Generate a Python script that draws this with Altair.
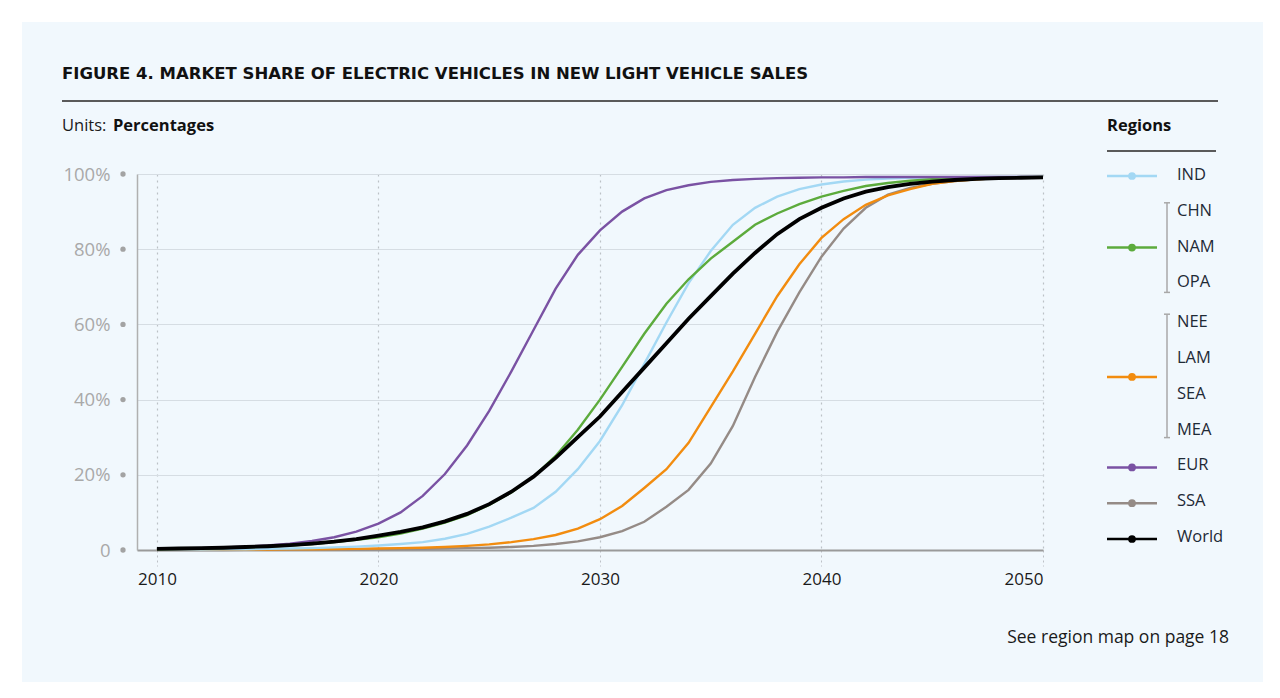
import altair as alt
import pandas as pd

# ---------------- data ----------------
years = list(range(2010, 2051))

ind = [0.1, 0.1, 0.1, 0.2, 0.2, 0.3, 0.4, 0.5, 0.7, 0.9,
       1.2, 1.6, 2.1, 3.0, 4.3, 6.2, 8.6, 11.2, 15.5, 21.5,
       29.0, 38.5, 49.5, 60.5, 71.0, 79.5, 86.5, 91.0, 94.0, 96.0,
       97.2, 98.0, 98.5, 98.8, 99.0, 99.1, 99.1, 99.2, 99.2, 99.2, 99.2]
nam = [0.2, 0.3, 0.4, 0.5, 0.7, 0.9, 1.2, 1.6, 2.1, 2.7,
       3.4, 4.4, 5.7, 7.3, 9.3, 12.0, 15.3, 19.5, 25.0, 32.0,
       40.0, 48.7, 57.5, 65.5, 72.0, 77.5, 82.0, 86.5, 89.5, 92.0,
       94.0, 95.5, 96.8, 97.6, 98.2, 98.6, 98.9, 99.0, 99.1, 99.1, 99.2]
lam = [0.05, 0.05, 0.1, 0.1, 0.1, 0.15, 0.2, 0.2, 0.25, 0.3,
       0.4, 0.5, 0.6, 0.8, 1.1, 1.5, 2.1, 2.9, 4.0, 5.7,
       8.2, 11.7, 16.5, 21.5, 28.5, 38.0, 47.5, 57.5, 67.5, 76.0,
       83.0, 88.0, 91.8, 94.3, 96.0, 97.4, 98.1, 98.6, 98.9, 99.0, 99.1]
eur = [0.3, 0.4, 0.5, 0.7, 0.9, 1.2, 1.7, 2.4, 3.4, 4.9,
       7.0, 10.0, 14.4, 20.2, 27.8, 37.0, 47.5, 58.5, 69.5, 78.5,
       85.0, 90.0, 93.5, 95.7, 97.0, 97.9, 98.4, 98.7, 98.9, 99.0,
       99.1, 99.1, 99.2, 99.2, 99.2, 99.2, 99.2, 99.2, 99.2, 99.2, 99.2]
ssa = [0.0, 0.0, 0.0, 0.0, 0.05, 0.05, 0.1, 0.1, 0.1, 0.15,
       0.2, 0.25, 0.3, 0.4, 0.5, 0.6, 0.8, 1.1, 1.6, 2.3,
       3.4, 5.0, 7.5, 11.5, 16.0, 23.0, 33.0, 46.0, 58.0, 68.5,
       78.0, 85.5, 91.0, 94.5, 96.3, 97.4, 98.1, 98.6, 98.9, 99.0, 99.1]
world = [0.3, 0.4, 0.5, 0.6, 0.8, 1.0, 1.3, 1.7, 2.2, 2.9,
         3.8, 4.8, 6.0, 7.6, 9.6, 12.2, 15.5, 19.5, 24.5, 30.0,
         35.5, 42.0, 48.5, 55.0, 61.5, 67.5, 73.5, 79.0, 84.0, 88.0,
         91.0, 93.5, 95.3, 96.5, 97.4, 98.0, 98.4, 98.7, 98.9, 99.0, 99.1]

series_names = ["SSA", "NEE/LAM/SEA/MEA", "IND", "CHN/NAM/OPA", "EUR"]
series_values = [ssa, lam, ind, nam, eur]
series_colors = ["#958b86", "#f28c0f", "#a3d8f4", "#5cab3c", "#7a52a3"]

y_ticks = [0, 20, 40, 60, 80, 100]
x_ticks = [2010, 2020, 2030, 2040, 2050]

legend_labels = ["IND", "CHN", "NAM", "OPA", "NEE", "LAM", "SEA", "MEA", "EUR", "SSA", "World"]
legend_symbols = ["IND", "CHN/NAM/OPA", "NEE/LAM/SEA/MEA", "EUR", "SSA", "World"]
legend_symbol_colors = ["#a3d8f4", "#5cab3c", "#f28c0f", "#7a52a3", "#958b86", "#000000"]

title_text = "FIGURE 4. MARKET SHARE OF ELECTRIC VEHICLES IN NEW LIGHT VEHICLE SALES"
footnote_text = "See region map on page 18"

# ---------------- layout (pixels relative to plot origin) ----------------
W, H = 906, 376
FONT = "Open Sans"
BG = "#f1f8fd"

rows = []
for name, vals in zip(series_names, series_values):
    for yr, v in zip(years, vals):
        rows.append({"year": yr, "share": v, "region": name})
df = pd.DataFrame(rows)
df_world = pd.DataFrame({"year": years, "share": world})
df_ticks = pd.DataFrame({"share": y_ticks})

xscale = alt.Scale(domain=[2009.1, 2050], nice=False, zero=False)
yscale = alt.Scale(domain=[0, 100], nice=False)

x_enc = alt.X("year:Q", scale=xscale,
              axis=alt.Axis(values=x_ticks, format="d", title=None,
                            grid=True, gridDash=[2, 4], gridColor="#bcc1c6", gridWidth=1.2,
                            ticks=True, tickSize=16, tickDash=[2, 3], tickColor="#bcc1c6",
                            domain=True, domainColor="#9a9a9a", domainWidth=2.2,
                            labelFont=FONT, labelFontSize=17, labelColor="#1a1a1a",
                            labelPadding=5))
y_enc = alt.Y("share:Q", scale=yscale,
              axis=alt.Axis(values=y_ticks, title=None,
                            grid=True, gridColor="#d6dde3", gridWidth=1.2,
                            ticks=False, domain=True, domainColor="#b0b0b0", domainWidth=1.5,
                            labelExpr="datum.value == 0 ? '0' : datum.value + '%'",
                            labelFont=FONT, labelFontSize=18.5, labelColor="#a9a9a9",
                            labelPadding=27))

# white frame around the light-blue panel (svg background is the panel colour)
frame_df = pd.DataFrame({"px": [-129, 1126, -129, -129], "px2": [-115, 1135, 1135, 1135],
                         "py": [-166, -166, -166, 508], "py2": [516, 516, -152, 516]})
frame = alt.Chart(frame_df).mark_rect(color="#ffffff").encode(
    x=alt.X("px:Q", scale=None, axis=None), x2="px2:Q",
    y=alt.Y("py:Q", scale=None, axis=None), y2="py2:Q")

lines = alt.Chart(df).mark_line(strokeWidth=2.4).encode(
    x=x_enc, y=y_enc,
    color=alt.Color("region:N", scale=alt.Scale(domain=series_names, range=series_colors), legend=None),
    order=alt.Order("year:Q"),
)
world_line = alt.Chart(df_world).mark_line(strokeWidth=3.8, color="#000000").encode(
    x=alt.X("year:Q", axis=None), y=alt.Y("share:Q", axis=None))

# grey bullet after each y tick label
tick_dots = alt.Chart(df_ticks).mark_point(filled=True, size=28, color="#a3a3a3", opacity=1).encode(
    x=alt.value(-14), y=alt.Y("share:Q", axis=None))


def pix(**kw):
    return dict(x=alt.X("px:Q", scale=None, axis=None), y=alt.Y("py:Q", scale=None, axis=None), **kw)


def label(px, py, text, font=FONT, **style):
    return alt.Chart(pd.DataFrame({"px": [px], "py": [py], "t": [text]})).mark_text(
        baseline="middle", font=font, **style).encode(**pix(text="t:N"))


title = label(-75, -100, title_text, font="DejaVu Sans", align="left", fontSize=16.5,
              fontWeight="bold", color="#111111")
units1 = label(-75, -48, "Units:", align="left", fontSize=16.5, color="#1a1a1a")
units2 = label(-24, -48, "Percentages", align="left", fontSize=16.5, fontWeight="bold", color="#111111")
regions_title = label(970, -48, "Regions", align="left", fontSize=16.5, fontWeight="bold", color="#111111")
footnote = label(1092, 464, footnote_text, align="right", fontSize=17.5, color="#1a1a1a")

rules_df = pd.DataFrame({
    "px": [-75, 970], "px2": [1081, 1079], "py": [-73, -23], "py2": [-73, -23]})
top_rules = alt.Chart(rules_df).mark_rule(color="#5a5a5a", strokeWidth=2).encode(
    x=alt.X("px:Q", scale=None, axis=None), x2="px2:Q",
    y=alt.Y("py:Q", scale=None, axis=None), y2="py2:Q")

# legend positions
ROW = 35.8
label_y = [i * ROW + (4 if i >= 4 else 0) + 1 for i in range(len(legend_labels))]
leg_text = alt.Chart(pd.DataFrame({"px": [1040] * len(legend_labels), "py": label_y,
                                   "t": legend_labels})).mark_text(
    align="left", baseline="middle", font=FONT, fontSize=16.5, color="#1f2a36"
).encode(**pix(text="t:N"))

sym_y = [label_y[0] + 1, label_y[2] + 1, (label_y[5] + label_y[6]) / 2 + 1,
         label_y[8] + 2, label_y[9] + 2, label_y[10] + 2]
sym_df = pd.DataFrame({"name": legend_symbols, "px": [970] * 6, "px2": [1020] * 6,
                       "pc": [995] * 6, "py": sym_y})
sym_color = alt.Color("name:N", scale=alt.Scale(domain=legend_symbols, range=legend_symbol_colors), legend=None)
sym_lines = alt.Chart(sym_df).mark_rule(strokeWidth=2.5).encode(
    x=alt.X("px:Q", scale=None, axis=None), x2="px2:Q",
    y=alt.Y("py:Q", scale=None, axis=None), color=sym_color)
sym_dots = alt.Chart(sym_df).mark_point(filled=True, size=60, opacity=1).encode(
    x=alt.X("pc:Q", scale=None, axis=None),
    y=alt.Y("py:Q", scale=None, axis=None), color=sym_color)

# brackets for grouped regions
br_top = [label_y[1] - 8, label_y[4] - 8]
br_bot = [label_y[3] + 10, label_y[7] + 8]
br_df = pd.DataFrame({"px": [1030, 1030], "py": br_top, "py2": br_bot})
bracket_v = alt.Chart(br_df).mark_rule(color="#a8a8a8", strokeWidth=1.5).encode(
    x=alt.X("px:Q", scale=None, axis=None),
    y=alt.Y("py:Q", scale=None, axis=None), y2="py2:Q")
cap_df = pd.DataFrame({"px": [1027] * 4, "px2": [1033] * 4, "py": br_top + br_bot})
bracket_c = alt.Chart(cap_df).mark_rule(color="#a8a8a8", strokeWidth=1.5).encode(
    x=alt.X("px:Q", scale=None, axis=None), x2="px2:Q",
    y=alt.Y("py:Q", scale=None, axis=None))

chart = alt.layer(
    frame, lines, world_line, tick_dots, title, units1, units2, regions_title, footnote,
    top_rules, sym_lines, sym_dots, leg_text, bracket_v, bracket_c
).resolve_scale(color="independent").resolve_axis(x="independent", y="independent").properties(
    width=W, height=H,
    autosize=alt.AutoSizeParams(type="none"),
    padding={"left": 129, "top": 166, "right": 229, "bottom": 140},
    background=BG,
).configure_view(strokeWidth=0)

chart.save("out.html", embed_options={"renderer": "svg", "actions": False})
